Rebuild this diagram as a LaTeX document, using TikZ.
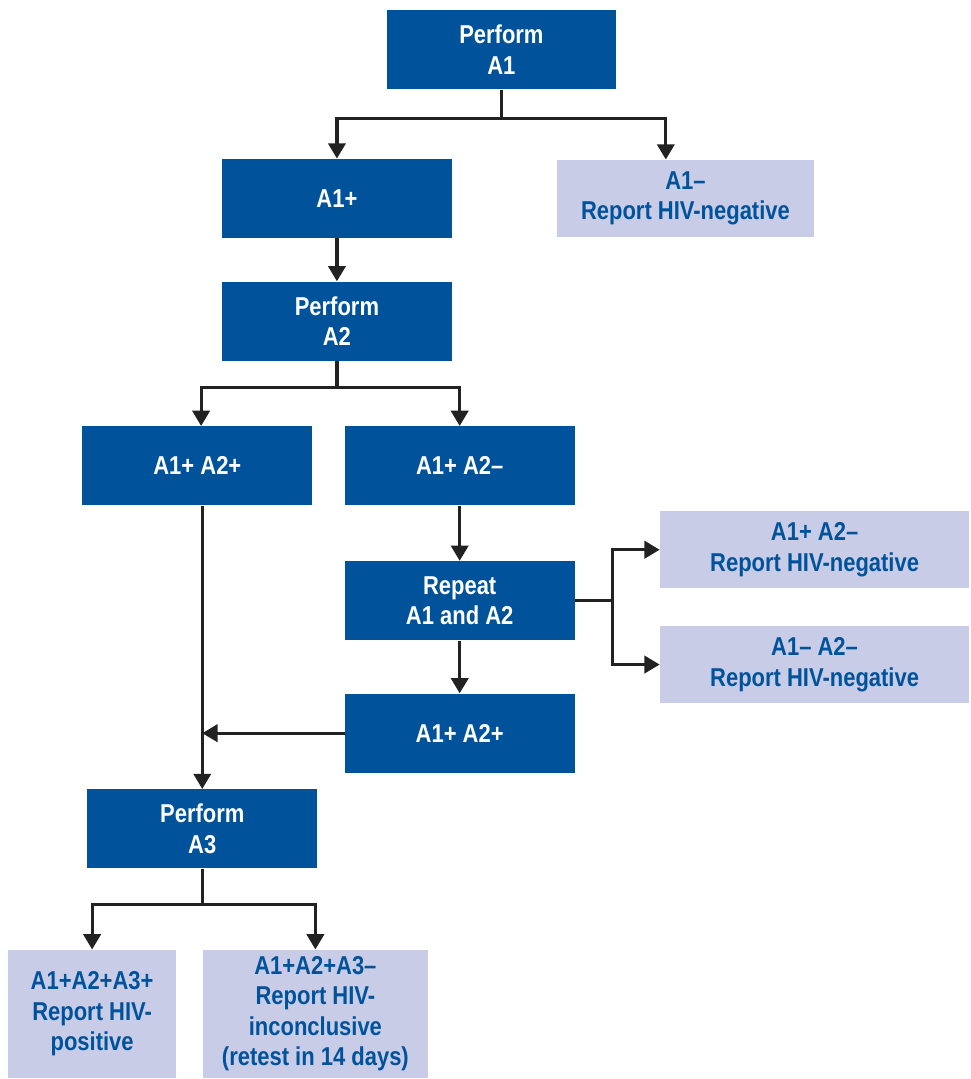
\documentclass[tikz,border=0pt]{standalone}
\usepackage{fontspec}
\setmainfont{Liberation Sans}[FakeStretch=0.85]
\usetikzlibrary{positioning,arrows.meta,calc}
\definecolor{hivdark}{RGB}{0,83,155}
\definecolor{hivlight}{RGB}{200,204,230}
\definecolor{hivline}{RGB}{34,34,34}
\begin{document}
\begin{tikzpicture}[font=\fontsize{19.5pt}{23pt}\selectfont\bfseries,>={Triangle[length=11.5pt,width=13pt]},
dark/.style={fill=hivdark,text=white,minimum width=60.9mm,minimum height=21mm,align=center,inner sep=2pt},
light/.style={fill=hivlight,text=hivdark,minimum height=20.5mm,align=center,inner sep=2pt},
arr/.style={->,line width=2.4pt,hivline}]
\node[dark] (a1) {Perform\\A1};
\node[dark,below=18.3mm of a1,xshift=-43.6mm] (a1p) {A1+};
\node[light,right=27.8mm of a1p,minimum width=68mm] (a1n) {A1–\\Report HIV-negative};
\node[dark,below=11.4mm of a1p] (a2) {Perform\\A2};
\node[dark,below=17.2mm of a2,xshift=-37mm] (pp) {A1+ A2+};
\node[dark,right=8.5mm of pp] (pm) {A1+ A2–};
\node[dark,below=14.6mm of pm] (rep) {Repeat\\A1 and A2};
\node[light,right=22.5mm of rep,yshift=13.5mm,minimum width=82mm] (pmr) {A1+ A2–\\Report HIV-negative};
\node[light,below=9.8mm of pmr,minimum width=82mm] (mmr) {A1– A2–\\Report HIV-negative};
\node[dark,below=14mm of rep] (pp2) {A1+ A2+};
\node[dark,below=75.1mm of pp,xshift=1.3mm] (a3) {Perform\\A3};
\node[light,below=21.4mm of a3,xshift=-29.2mm,minimum width=44.5mm,minimum height=33.9mm] (pos) {A1+A2+A3+\\Report HIV-\\positive};
\node[light,right=6.9mm of pos,minimum width=59.8mm,minimum height=33.9mm] (inc) {A1+A2+A3–\\Report HIV-\\inconclusive\\(retest in 14 days)};
\coordinate (j1) at ($(a1.south)+(0,-7.7mm)$);
\coordinate (j2) at ($(a2.south)+(0,-7.1mm)$);
\coordinate (j3) at ($(rep.east)+(10mm,0)$);
\coordinate (j4) at ($(a3.south)+(0,-9.5mm)$);
\draw[line width=2.4pt,hivline] (a1.south) -- (j1);
\draw[arr] (j1) -| (a1p);
\draw[arr] (j1) -| ([xshift=-5.2mm]a1n.north);
\draw[arr] (a1p) -- (a2);
\draw[line width=2.4pt,hivline] (a2.south) -- (j2);
\draw[arr] (j2) -| ([xshift=1mm]pp.north);
\draw[arr] (j2) -| (pm);
\draw[arr] (pm) -- (rep);
\draw[line width=2.4pt,hivline] (rep.east) -- (j3);
\draw[arr] (j3) |- (pmr);
\draw[arr] (j3) |- (mmr);
\draw[arr] (rep) -- (pp2);
\draw[arr] (pp.south -| a3.north) -- (a3.north);
\draw[arr] (pp2.west) -- (pp2.west -| a3.north);
\draw[line width=2.4pt,hivline] (a3.south) -- (j4);
\draw[arr] (j4) -| (pos);
\draw[arr] (j4) -| (inc);
\path ($(pos.west |- a1.north)+(-2.1mm,2.6mm)$) rectangle ($(pmr.east |- pos.south)+(0.3mm,-0.3mm)$);
\end{tikzpicture}
\end{document}
